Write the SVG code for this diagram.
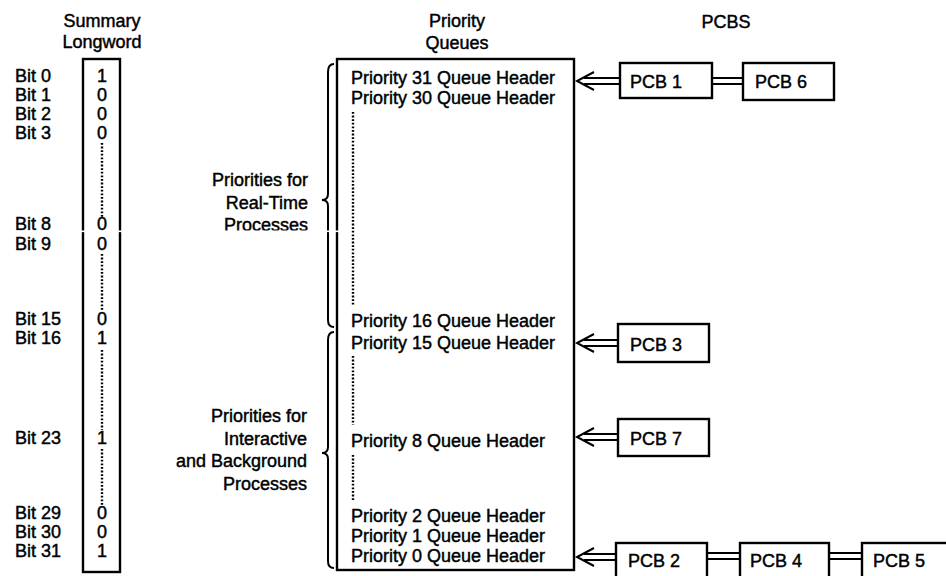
<svg xmlns="http://www.w3.org/2000/svg" width="946" height="576" viewBox="0 0 946 576">
<style>
text{font-family:"Liberation Sans",Arial,sans-serif;font-size:18px;fill:#000;stroke:#000;stroke-width:0.45}
.c{text-anchor:middle}
.r{text-anchor:end}
.box{fill:#fff;stroke:#000;stroke-width:2.4}
.dot{fill:none;stroke:#000;stroke-width:2.4;stroke-dasharray:1.8 1.8}
.br{fill:none;stroke:#000;stroke-width:2}
.ln{fill:none;stroke:#000;stroke-width:2}
</style>
<rect width="946" height="576" fill="#fff"/>

<g id="headers">
<text class="c" x="102" y="27">Summary</text>
<text class="c" x="102" y="48">Longword</text>
<text class="c" x="457" y="27">Priority</text>
<text class="c" x="457" y="49">Queues</text>
<text class="c" x="726" y="28">PCBS</text>
</g>

<g id="summary-longword">
<rect class="box" x="83" y="59" width="37" height="513"/>
<text x="15" y="82">Bit 0</text><text class="c" x="102" y="82">1</text>
<text x="15" y="101">Bit 1</text><text class="c" x="102" y="101">0</text>
<text x="15" y="120">Bit 2</text><text class="c" x="102" y="120">0</text>
<text x="15" y="139">Bit 3</text><text class="c" x="102" y="139">0</text>
<text x="15" y="230">Bit 8</text><text class="c" x="102" y="230">0</text>
<text x="15" y="250">Bit 9</text><text class="c" x="102" y="250">0</text>
<text x="15" y="325">Bit 15</text><text class="c" x="102" y="325">0</text>
<text x="15" y="344">Bit 16</text><text class="c" x="102" y="344">1</text>
<text x="15" y="444">Bit 23</text><text class="c" x="102" y="444">1</text>
<text x="15" y="519">Bit 29</text><text class="c" x="102" y="519">0</text>
<text x="15" y="538">Bit 30</text><text class="c" x="102" y="538">0</text>
<text x="15" y="557">Bit 31</text><text class="c" x="102" y="557">1</text>
<path class="dot" d="M102,143V217M102,254V311M102,350V430M102,449V505"/>
</g>

<g id="priority-queues">
<rect class="box" x="337" y="59" width="237" height="511"/>
<text x="351" y="84">Priority 31 Queue Header</text>
<text x="351" y="104">Priority 30 Queue Header</text>
<text x="351" y="327">Priority 16 Queue Header</text>
<text x="351" y="349">Priority 15 Queue Header</text>
<text x="351" y="447">Priority 8 Queue Header</text>
<text x="351" y="522">Priority 2 Queue Header</text>
<text x="351" y="542">Priority 1 Queue Header</text>
<text x="351" y="562">Priority 0 Queue Header</text>
<path class="dot" d="M353,112V305M353,356V425M353,455V500"/>
</g>

<g id="real-time-group">
<path class="br" d="M334,64Q328,64 328,72V194Q328,200 322,200Q328,200 328,206V320Q328,327 334,327"/>
<text class="r" x="308" y="186">Priorities for</text>
<text class="r" x="308" y="209">Real-Time</text>
<text class="r" x="308" y="231">Processes</text>
</g>

<g id="interactive-group">
<path class="br" d="M334,332Q328,332 328,340V447Q328,453 322,453Q328,453 328,459V561Q328,568 334,568"/>
<text class="r" x="307" y="422">Priorities for</text>
<text class="r" x="307" y="445">Interactive</text>
<text class="r" x="307" y="467">and Background</text>
<text class="r" x="307" y="490">Processes</text>
</g>

<g id="pcb1"><rect class="box" x="620" y="63" width="92" height="35"/><text x="630" y="88">PCB 1</text></g>
<g id="pcb6"><rect class="box" x="743" y="63" width="91" height="37"/><text x="755" y="88">PCB 6</text></g>
<g id="pcb3"><rect class="box" x="618" y="324" width="91" height="38"/><text x="630" y="351">PCB 3</text></g>
<g id="pcb7"><rect class="box" x="618" y="419" width="91" height="37"/><text x="630" y="445">PCB 7</text></g>
<g id="pcb2"><rect class="box" x="616" y="543" width="91" height="40"/><text x="628" y="567">PCB 2</text></g>
<g id="pcb4"><rect class="box" x="740" y="543" width="89" height="40"/><text x="750" y="567">PCB 4</text></g>
<g id="pcb5"><rect class="box" x="862" y="543" width="100" height="40"/><text x="873" y="567">PCB 5</text></g>

<g id="connectors">
<path class="ln" d="M584,78H620M584,84H620M594,72L577,81L594,90"/>
<path class="ln" d="M712,78H743M712,84H743"/>
<path class="ln" d="M584,340H618M584,346H618M594,334L577,343L594,352"/>
<path class="ln" d="M584,434H618M584,440H618M594,428L577,437L594,446"/>
<path class="ln" d="M584,554H616M584,560H616M594,548L577,557L594,566"/>
<path class="ln" d="M707,553H740M707,559H740"/>
<path class="ln" d="M829,553H862M829,559H862"/>
</g>

<rect x="0" y="230.5" width="345" height="1.6" fill="#fff"/>
</svg>
